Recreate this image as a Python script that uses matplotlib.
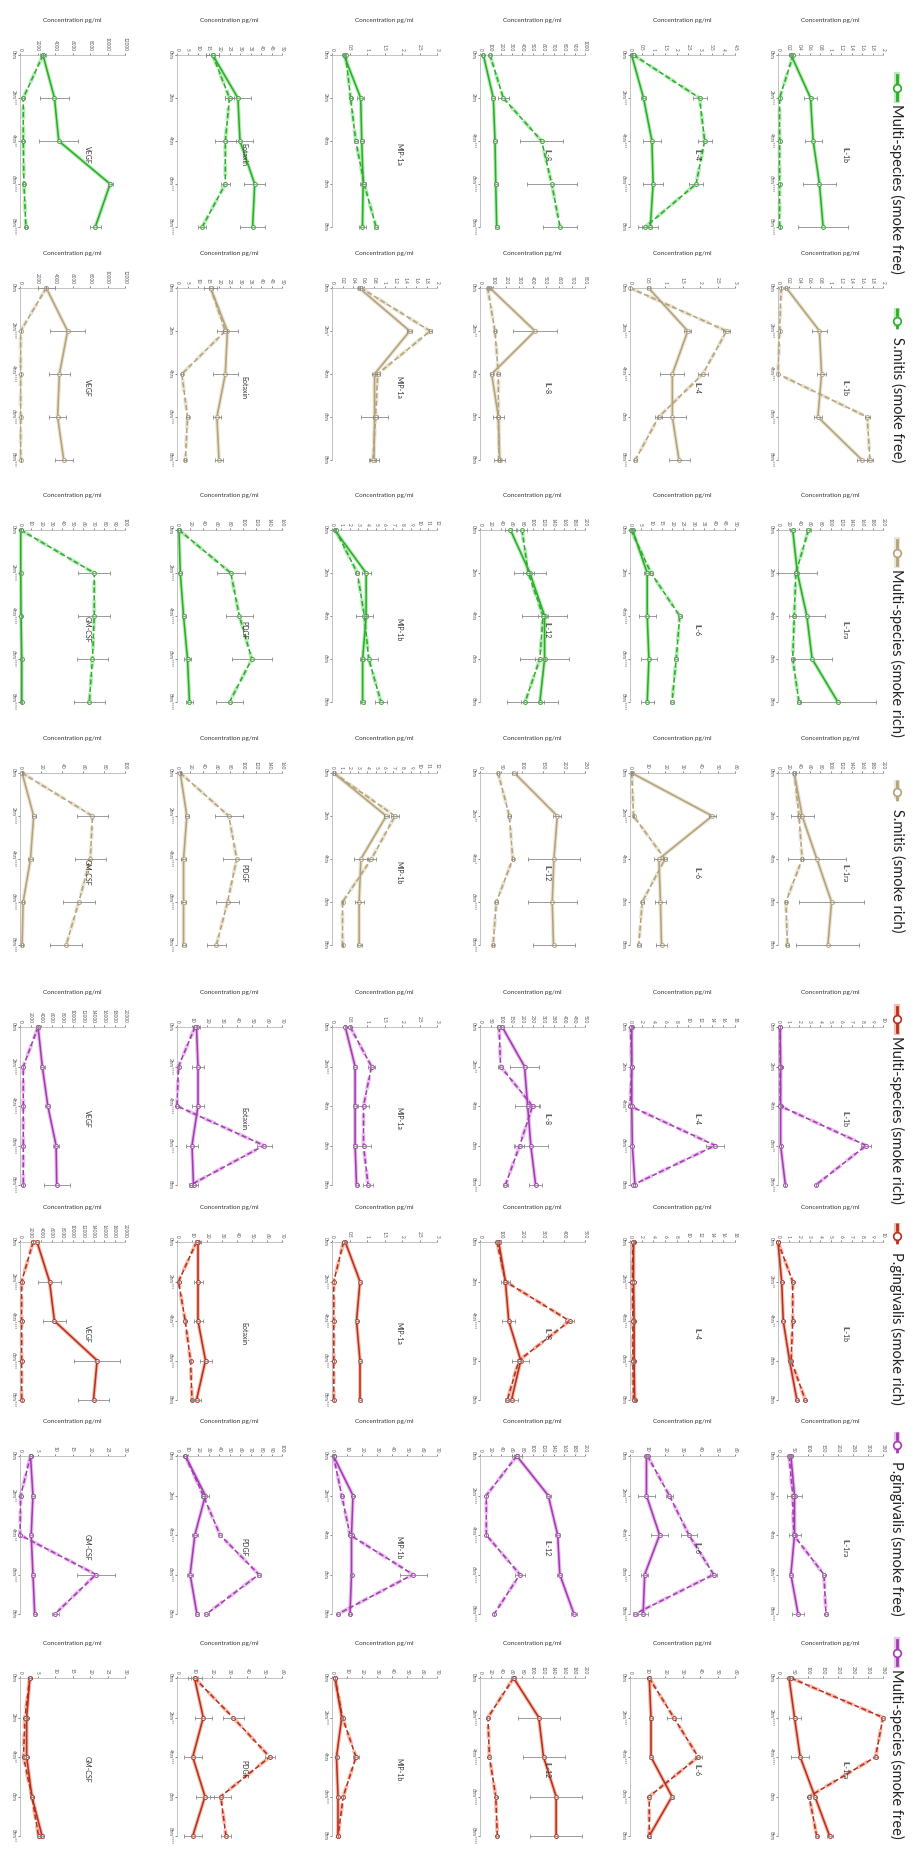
import matplotlib
matplotlib.use("Agg")
import matplotlib.pyplot as plt
from matplotlib.lines import Line2D
import numpy as np

plt.rcParams['font.family'] = ['Lato', 'DejaVu Sans']

# ---------------- data ----------------
times = ["0hrs", "2hrs", "4hrs", "6hrs", "8hrs"]
hours = [0, 2, 4, 6, 8]
top_cyt = ["VEGF", "Eotaxin", "MIP-1a", "IL-8", "IL-4", "IL-1b"]
bot_cyt = ["GM-CSF", "PDGF", "MIP-1b", "IL-12", "IL-6", "IL-1ra"]

# row 0 : green, top cytokines (solid = Multi-species smoke free, dashed = S.mitis smoke free)
r0_solid = [[2625, 3940, 4430, 10300, 8600], [17, 29, 30, 37, 36], [0.34, 0.82, 0.85, 0.89, 0.87],
            [32, 127, 143, 150, 159], [0.07, 0.58, 0.94, 0.99, 0.87], [0.25, 0.62, 0.67, 0.79, 0.86]]
r0_solid_err = [[300, 1700, 2250, 300, 600], [3, 6, 6, 5, 6], [0.03, 0.1, 0.05, 0.08, 0.1],
                [10, 20, 20, 20, 20], [0.02, 0.1, 0.4, 0.44, 0.35], [0.02, 0.13, 0.16, 0.32, 0.48]]
r0_dash = [[2625, 375, 375, 450, 675], [17, 25, 23, 23, 12], [0.39, 0.53, 0.68, 0.92, 1.26],
           [95, 222, 587, 683, 762], [0.15, 2.98, 3.2, 2.83, 0.65], [0.29, 0.03, 0.03, 0.03, 0.03]]
r0_dash_err = [[0, 100, 100, 100, 100], [3, 2, 5, 2, 2], [0.02, 0.03, 0.05, 0.05, 0.05],
               [10, 50, 206, 238, 159], [0.05, 0.3, 0.3, 0.3, 0.3], [0, 0, 0, 0, 0]]
r0_max = [12000, 50, 3, 1000, 4.5, 2]
r0_step = [2000, 5, 0.5, 100, 0.5, 0.2]
r0_stars = ["03244", "00034", "00000", "00344", "03340", "03344"]

# row 1 : tan, top cytokines (solid = Multi-species smoke rich, dashed = S.mitis smoke rich)
r1_solid = [[3000, 5440, 4500, 4300, 5000], [16, 24, 23, 19, 20], [0.52, 1.48, 0.81, 0.81, 0.8],
            [76, 419, 89, 140, 150], [0.53, 1.65, 1.21, 1.21, 1.4], [0.16, 0.79, 0.83, 0.76, 1.6]]
r1_solid_err = [[1000, 2000, 1200, 1000, 1000], [3, 5, 6, 2, 2], [0.02, 0.05, 0.05, 0.25, 0.1],
                [5, 165, 10, 40, 40], [0.05, 0.1, 0.34, 0.4, 0.3], [0.02, 0.15, 0.08, 0.08, 0.1]]
r1_dash = [[3000, 75, 75, 75, 75], [16, 23, 2.3, 5, 4], [0.55, 1.87, 0.87, 0.83, 0.78],
           [58, 114, 140, 140, 145], [0.0, 2.76, 2.08, 0.82, 0.15], [0.06, 0.03, 0.0, 1.7, 1.75]]
r1_dash_err = [[0, 0, 0, 0, 0], [1, 1, 0.5, 0.5, 0.5], [0.02, 0.03, 0.05, 0.05, 0.05],
               [5, 10, 10, 10, 10], [0, 0.1, 0.15, 0.1, 0.05], [0, 0, 0, 0.05, 0.05]]
r1_max = [12000, 50, 2, 800, 3, 2]
r1_step = [2000, 5, 0.2, 100, 0.5, 0.2]
r1_stars = ["04433", "00033", "01000", "02000", "03303", "03333"]

# row 2 : green, bottom cytokines
r2_solid = [[0.7, 0.7, 1, 1.7, 1.7], [3, 5, 10, 16, 19], [0.3, 3.9, 3.9, 3.5, 3.5],
            [58, 95, 123, 123, 114], [1.2, 8.2, 8.2, 9, 8.2], [28, 37, 55, 65, 114]]
r2_solid_err = [[0.5, 0.5, 0.5, 0.5, 0.5], [1, 2, 3, 5, 5], [0.1, 0.5, 0.2, 0.2, 0.3],
                [10, 30, 43, 46, 35], [0.5, 1.5, 4, 4, 3], [5, 37, 34, 37, 72]]
r2_dash = [[0.7, 70.7, 70.7, 69, 66], [3, 82, 95, 114, 80], [0.4, 2.9, 3.7, 4.2, 5.6],
           [80, 92, 120, 114, 86], [0.5, 10, 23.7, 22, 20], [58, 34, 31, 28, 40]]
r2_dash_err = [[0, 15, 15, 15, 15], [1, 21, 21, 30, 21], [0.1, 0.2, 1, 1, 0.7],
               [10, 10, 10, 10, 35], [0.3, 1, 1, 1, 1], [5, 3, 3, 3, 3]]
r2_max = [100, 160, 12, 200, 50, 200]
r2_step = [10, 20, 1, 20, 5, 20]
r2_stars = ["04444", "04444", "00000", "00000", "00444", "00000"]

# row 3 : tan, bottom cytokines
r3_solid = [[2, 13, 10, 3, 2], [5, 15, 10, 10, 10], [0.2, 6.2, 3.3, 3.1, 3.1],
            [82, 184, 176, 172, 175], [1, 47, 16.5, 17.4, 18], [31, 46, 74, 102, 95]]
r3_solid_err = [[0.5, 2, 2, 1, 1], [1, 3, 4, 4, 3], [0.1, 0.3, 0.8, 0.5, 0.3],
                [5, 10, 62, 58, 50], [0.5, 2, 3, 3, 3], [3, 22, 55, 62, 60]]
r3_dash = [[2, 69, 67, 56, 44], [5, 79, 91, 77, 60], [0.2, 7.2, 4.5, 1.2, 1.2],
           [43, 70, 78, 39, 31], [1, 2, 20, 7, 5], [31, 40, 46, 15, 18]]
r3_dash_err = [[0, 15, 15, 15, 15], [1, 21, 21, 18, 15], [0.1, 0.5, 0.5, 0.1, 0.1],
               [3, 3, 3, 3, 3], [0.3, 0.5, 1, 1, 1], [2, 2, 2, 2, 2]]
r3_max = [100, 160, 12, 250, 60, 200]
r3_step = [20, 20, 1, 50, 10, 20]
r3_stars = ["04443", "04443", "00000", "02143", "03000", "00000"]

# row 4 : purple, top cytokines (solid = Multi-species smoke free, dashed = P.gingivalis smoke free)
r4_solid = [[3440, 4250, 5300, 6875, 7000], [13, 14, 14, 10, 11], [0.38, 0.66, 0.66, 0.66, 0.7],
            [106, 212, 227, 242, 265], [0.3, 0.3, 0.3, 0.4, 0.85], [0.2, 0.25, 0.25, 0.25, 0.7]]
r4_solid_err = [[300, 500, 500, 500, 2500], [2, 4, 4, 4, 3], [0.02, 0.05, 0.05, 0.05, 0.05],
                [10, 68, 60, 80, 30], [0, 0, 0, 0, 0], [0, 0, 0, 0, 0]]
r4_dash = [[3440, 625, 625, 625, 625], [12, 1, 0, 58, 9], [0.52, 1.13, 0.9, 0.9, 1.03],
           [91, 98, 250, 189, 121], [0.1, 0.3, 0, 14.6, 0.5], [0.2, 0.2, 0.2, 8.4, 3.6]]
r4_dash_err = [[0, 0, 0, 0, 0], [1, 0.5, 0.5, 5, 1], [0.02, 0.1, 0.15, 0.2, 0.15],
               [10, 10, 30, 20, 10], [0, 0, 0, 1.5, 0], [0, 0, 0, 0.5, 0]]
r4_max = [20000, 70, 3, 500, 18, 10]
r4_step = [2000, 10, 0.5, 50, 2, 1]
r4_stars = ["04444", "04430", "03000", "02003", "00230", "00023"]

# row 5 : red, top cytokines (solid = Multi-species smoke rich, dashed = P.gingivalis smoke rich)
r5_solid = [[3250, 5625, 6560, 14690, 14000], [14, 14, 14, 19, 13], [0.38, 0.8, 0.7, 0.8, 0.8],
            [89, 121, 137, 194, 150], [0.6, 0.6, 0.7, 0.7, 0.8], [0, 0.35, 0.5, 1.1, 1.8]]
r5_solid_err = [[300, 2200, 2200, 4400, 3000], [2, 3, 3, 4, 3], [0.02, 0.05, 0.05, 0.05, 0.05],
                [10, 20, 30, 40, 30], [0, 0, 0, 0, 0], [0, 0.1, 0.1, 0.1, 0.1]]
r5_dash = [[2500, 310, 310, 310, 310], [13, 1, 5.5, 9, 10], [0.33, 0.05, 0.05, 0.05, 0.05],
           [81, 121, 427, 185, 130], [0.5, 0.4, 0.5, 0.5, 0.6], [0, 1.4, 1.4, 1.25, 2.6]]
r5_dash_err = [[0, 0, 0, 0, 0], [1, 0.5, 0.5, 0.5, 0.5], [0, 0, 0, 0, 0],
               [5, 10, 20, 10, 10], [0, 0, 0, 0, 0], [0, 0.1, 0.1, 0.1, 0.1]]
r5_max = [20000, 70, 3, 500, 18, 10]
r5_step = [2000, 10, 0.5, 100, 2, 1]
r5_stars = ["04443", "03230", "03333", "00400", "03320", "02200"]

# row 6 : purple, bottom cytokines
r6_solid = [[3, 3.7, 3.2, 3.7, 4.2], [8, 27, 17, 12.5, 19], [1, 14, 13, 13, 12],
            [70, 130, 148, 152, 179], [9.4, 9.4, 16.9, 8.4, 7.5], [43, 55, 55, 43, 67]]
r6_solid_err = [[0.5, 0.5, 0.5, 0.5, 0.5], [1, 3, 3, 3, 2], [0.5, 0.5, 0.5, 0.5, 0.5],
                [5, 5, 5, 5, 5], [1, 4.7, 4.7, 2, 3], [5, 25, 20, 8, 20]]
r6_dash = [[3, 0.2, 0, 21.7, 10], [8, 25, 41, 78, 28], [1, 6.5, 12, 54, 4],
           [70, 12, 12, 76, 27], [10, 22.5, 33.7, 47.8, 2.8], [37, 49, 52, 153, 160]]
r6_dash_err = [[0.5, 0.1, 0, 5.5, 1], [1, 2, 2, 2, 2], [0, 0.5, 1, 9, 1],
               [10, 0, 0, 10, 0], [1, 2, 4.7, 2, 1], [3, 3, 3, 5, 5]]
r6_max = [30, 100, 70, 200, 60, 350]
r6_step = [5, 10, 10, 20, 10, 50]
r6_stars = ["02230", "00330", "02000", "04444", "03233", "00033"]

# row 7 : red, bottom cytokines
r7_solid = [[2.8, 1.9, 1.9, 3.4, 6.3], [10, 15, 9, 16, 9], [2, 6.5, 3, 4, 4],
            [64, 112, 121, 145, 145], [11, 12, 12, 24, 11], [37, 55, 74, 123, 172]]
r7_solid_err = [[0.3, 0.3, 0.3, 0.3, 0.5], [4, 5, 5, 5, 5], [0.3, 0.3, 0.3, 0.3, 0.3],
                [5, 40, 40, 50, 50], [1, 1, 1, 1, 1], [3, 20, 30, 5, 10]]
r7_dash = [[2.8, 1.4, 1, 3.4, 5.3], [10, 32, 53, 25, 28], [2, 7, 16, 7.5, 4],
           [64, 15, 18, 30, 33], [11, 25, 39, 11, 11], [43, 350, 325, 104, 129]]
r7_dash_err = [[0.3, 0.2, 0.2, 0.2, 0.5], [2, 6, 3, 6, 3], [0, 0, 2, 0, 0],
               [3, 2, 2, 2, 2], [1, 4, 2, 1, 1], [3, 5, 5, 5, 5]]
r7_max = [30, 60, 70, 200, 60, 350]
r7_step = [5, 10, 10, 20, 10, 50]
r7_stars = ["00202", "02304", "03030", "04444", "03330", "04400"]

legend_labels = ["Multi-species (smoke free)", "S.mitis (smoke free)",
                 "Multi-species (smoke rich)", "S.mitis (smoke rich)",
                 "Multi-species (smoke rich)", "P.gingivalis (smoke rich)",
                 "P.gingivalis (smoke free)", "Multi-species (smoke free)"]

# ---------------- styles ----------------
GREEN, GREEN_H = "#2AAE2A", "#9FE39F"
TAN, TAN_H = "#B3A27C", "#E3DAC3"
PURPLE, PURPLE_H = "#A33BB0", "#E0A8E8"
RED, RED_H = "#B5301F", "#F2A58F"
ERR = "#8A8A8A"

legend_colors = [(GREEN, GREEN_H), (GREEN, GREEN_H), (TAN, TAN_H), (TAN, TAN_H),
                 (RED, RED_H), (RED, RED_H), (PURPLE, PURPLE_H), (PURPLE, PURPLE_H)]
legend_styles = ["-", "--", "-", "--", "-", "--", "--", "-"]
legend_y = [75, 308, 540, 780, 1007, 1223, 1432, 1640]

rows = [
    (r0_solid, r0_solid_err, r0_dash, r0_dash_err, r0_max, r0_step, r0_stars, GREEN, GREEN_H, top_cyt),
    (r1_solid, r1_solid_err, r1_dash, r1_dash_err, r1_max, r1_step, r1_stars, TAN, TAN_H, top_cyt),
    (r2_solid, r2_solid_err, r2_dash, r2_dash_err, r2_max, r2_step, r2_stars, GREEN, GREEN_H, bot_cyt),
    (r3_solid, r3_solid_err, r3_dash, r3_dash_err, r3_max, r3_step, r3_stars, TAN, TAN_H, bot_cyt),
    (r4_solid, r4_solid_err, r4_dash, r4_dash_err, r4_max, r4_step, r4_stars, PURPLE, PURPLE_H, top_cyt),
    (r5_solid, r5_solid_err, r5_dash, r5_dash_err, r5_max, r5_step, r5_stars, RED, RED_H, top_cyt),
    (r6_solid, r6_solid_err, r6_dash, r6_dash_err, r6_max, r6_step, r6_stars, PURPLE, PURPLE_H, bot_cyt),
    (r7_solid, r7_solid_err, r7_dash, r7_dash_err, r7_max, r7_step, r7_stars, RED, RED_H, bot_cyt),
]

W, H = 915, 1852
fig = plt.figure(figsize=(W / 100, H / 100), dpi=100)
fig.patch.set_facecolor("white")

col_left = [20, 177, 332, 480, 630, 778]
col_w = 105
row_top = [55, 288, 530, 773, 1027, 1242, 1456, 1678]
row_h = [172, 172, 172, 172, 158, 158, 158, 158]

DASH = (0, (3.2, 1.6))


def draw_series(ax, vals, errs, color, halo, ls):
    ax.plot(vals, hours, color=halo, lw=2.8, ls=ls, alpha=0.7, zorder=2,
            solid_capstyle="round", clip_on=False)
    ax.plot(vals, hours, color=color, lw=1.15, ls=ls, zorder=3, marker="o", ms=2.8,
            mfc="white", mec=color, mew=0.7, clip_on=False)
    ax.errorbar(vals, hours, xerr=errs, fmt="none", ecolor=ERR, elinewidth=0.6,
                capsize=1.6, capthick=0.6, zorder=4, clip_on=False)


for r, spec in enumerate(rows):
    solid, solid_err, dash, dash_err, xmax, step, stars, color, halo, names = spec
    for c in range(6):
        ax = fig.add_axes([col_left[c] / W, 1 - (row_top[r] + row_h[r]) / H,
                           col_w / W, row_h[r] / H])
        draw_series(ax, solid[c], solid_err[c], color, halo, "-")
        draw_series(ax, dash[c], dash_err[c], color, halo, DASH)
        ax.set_xlim(0, xmax[c])
        ax.set_ylim(8, 0)
        ticks = np.round(np.arange(0, xmax[c] + step[c] / 2, step[c]), 6)
        ax.set_xticks(ticks)
        ax.set_xticklabels(["%g" % t for t in ticks])
        ax.set_yticks(hours)
        ax.set_yticklabels([t + "*" * int(n) for t, n in zip(times, stars[c])])
        ax.xaxis.tick_top()
        ax.tick_params(axis="x", labelsize=3.4, rotation=-90, length=1.8, width=0.5,
                       colors="#555555", pad=1)
        ax.tick_params(axis="y", labelsize=3.4, rotation=-90, length=1.8, width=0.5,
                       colors="#555555", pad=1)
        for lab in ax.get_yticklabels():
            lab.set_verticalalignment("center")
        for s in ("right", "bottom"):
            ax.spines[s].set_visible(False)
        for s in ("top", "left"):
            ax.spines[s].set_color("#B8B8B8")
            ax.spines[s].set_linewidth(0.6)
        ax.set_facecolor("none")
        ax.annotate("Concentration pg/ml", xy=(0.5, 1), xycoords="axes fraction",
                    xytext=(0, 25), textcoords="offset points", ha="center",
                    va="center", fontsize=4.6, color="#333333")
        ax.text(0.64, 0.42, names[c], transform=ax.transAxes, rotation=-90,
                ha="center", va="center", fontsize=5, color="#333333")

# legend (vertical, reading top to bottom)
for lab, (col, hal), ls, y0 in zip(legend_labels, legend_colors, legend_styles, legend_y):
    ys = np.array([y0, y0 + 12.5, y0 + 25])
    yf = 1 - ys / H
    xf = np.full(3, 897 / W)
    fig.add_artist(Line2D(xf, yf, transform=fig.transFigure, color=hal, lw=4.5,
                          ls=ls if ls == "-" else (0, (3, 1.5)), alpha=0.7))
    fig.add_artist(Line2D(xf, yf, transform=fig.transFigure, color=col, lw=2,
                          ls=ls if ls == "-" else (0, (3, 1.5)), marker="o",
                          markevery=[1], ms=5.5, mfc="white", mec=col, mew=1.2))
    fig.text(897 / W, 1 - (y0 + 29) / H, lab, rotation=-90, ha="center", va="top",
             fontsize=10.5, color="#222222")

fig.savefig("out.png", dpi=100, facecolor="white")
